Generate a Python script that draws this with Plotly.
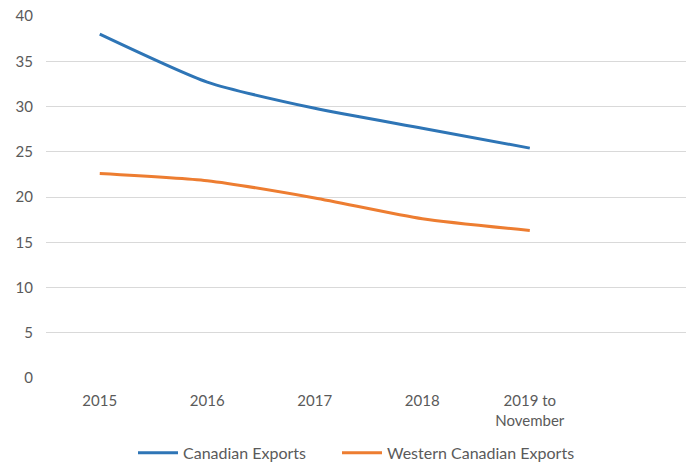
import plotly.graph_objects as go

# Export share by year (%)
categories = ["2015", "2016", "2017", "2018", "2019 to<br>November"]
canadian_exports = [38.0, 32.7, 29.8, 27.6, 25.4]
western_canadian_exports = [22.6, 21.8, 19.9, 17.6, 16.3]
y_ticks = [0, 5, 10, 15, 20, 25, 30, 35, 40]

x_pos = list(range(len(categories)))

fig = go.Figure()
fig.add_trace(go.Scatter(
    x=x_pos, y=canadian_exports, name="Canadian Exports", legend="legend",
    mode="lines", line=dict(color="#2E75B6", width=3, shape="spline", smoothing=0.6),
))
fig.add_trace(go.Scatter(
    x=x_pos, y=western_canadian_exports, name="Western Canadian Exports", legend="legend2",
    mode="lines", line=dict(color="#ED7D31", width=3, shape="spline", smoothing=0.6),
))

font_color = "#5A5A5A"
fs = 15
legend_style = dict(orientation="h", xref="container", xanchor="left",
                    yref="container", y=0.024, yanchor="middle",
                    font=dict(size=16, color=font_color), itemwidth=40,
                    bgcolor="rgba(0,0,0,0)")

fig.update_layout(
    width=686, height=464,
    margin=dict(l=46, r=0, t=16, b=86),
    paper_bgcolor="white", plot_bgcolor="white",
    font=dict(family="Lato, Liberation Sans, sans-serif", size=fs, color=font_color),
    showlegend=True,
    legend=dict(x=133 / 686, **legend_style),
    legend2=dict(x=337 / 686, **legend_style),
    xaxis=dict(
        tickmode="array", tickvals=x_pos, ticktext=categories,
        range=[-0.5, 5.453], showgrid=False, zeroline=False,
        showline=False, ticks="", tickfont=dict(size=fs, color=font_color),
        ticklabelstandoff=12, automargin=False,
    ),
    yaxis=dict(
        range=[0, 40], tickvals=y_ticks, showgrid=True, gridcolor="#D9D9D9",
        gridwidth=1, zeroline=False, showline=False, ticks="",
        tickfont=dict(size=fs, color=font_color), ticklabelstandoff=12,
        automargin=False,
    ),
)

fig.write_html("out.html")
